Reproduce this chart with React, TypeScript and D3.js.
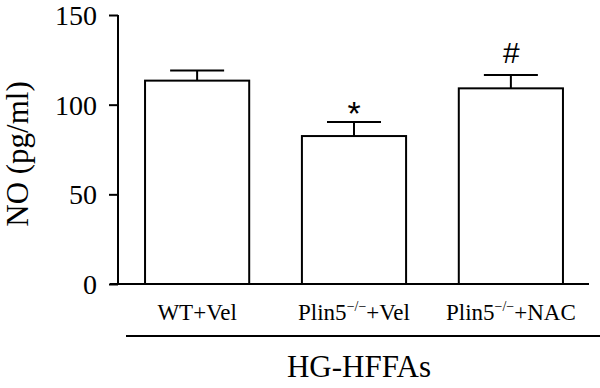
import React, { useRef, useEffect } from 'react';
import * as d3 from 'd3';

const groups = ['WT', 'Plin5', 'Plin5'];
const groupSup = ['', '−/−', '−/−'];
const treatments = ['+Vel', '+Vel', '+NAC'];
const means = [113.4, 82.5, 109.1];
const errors = [5.7, 7.8, 7.5];
const marks = ['', '*', '#'];
const yTicks = [0, 50, 100, 150];
const groupLabel = 'HG-HFFAs';
const yLabel = 'NO (pg/ml)';

const serif = '"Liberation Serif", "Times New Roman", serif';
const sans = '"Liberation Sans", Arial, sans-serif';

const App = () => {
  const svgRef = useRef<SVGSVGElement>(null);

  useEffect(() => {
    const svg = d3.select(svgRef.current);
    svg.selectAll('*').remove();

    const x = d3
      .scaleBand<number>()
      .domain(means.map((_, i) => i))
      .range([119, 589])
      .paddingInner(0.336)
      .paddingOuter(0.166);
    const y = d3.scaleLinear().domain([0, 150]).range([284, 15]);

    // y axis
    const yAxis = svg
      .append('g')
      .attr('transform', 'translate(118,0)')
      .call(d3.axisLeft(y).tickValues(yTicks).tickSize(9).tickPadding(12));
    yAxis.attr('font-family', serif);
    yAxis.select('.domain').attr('stroke', '#000').attr('stroke-width', 2).attr('d', `M0,${y(150)}V${y(0)}`);
    yAxis.selectAll('.tick line').attr('stroke', '#000').attr('stroke-width', 2);
    yAxis
      .selectAll('.tick text')
      .attr('font-family', serif)
      .attr('font-size', 28)
      .attr('fill', '#000')
      .attr('dy', '0.34em');

    // x axis baseline
    svg
      .append('line')
      .attr('x1', 110)
      .attr('x2', x.range()[1])
      .attr('y1', y(0))
      .attr('y2', y(0))
      .attr('stroke', '#000')
      .attr('stroke-width', 2);

    const bars = svg.append('g');
    means.forEach((m, i) => {
      const cx = (x(i) as number) + x.bandwidth() / 2;
      const top = y(m + errors[i]);
      bars
        .append('line')
        .attr('x1', cx)
        .attr('x2', cx)
        .attr('y1', y(m))
        .attr('y2', top)
        .attr('stroke', '#000')
        .attr('stroke-width', 2);
      bars
        .append('line')
        .attr('x1', cx - 27)
        .attr('x2', cx + 27)
        .attr('y1', top)
        .attr('y2', top)
        .attr('stroke', '#000')
        .attr('stroke-width', 2);
      bars
        .append('rect')
        .attr('x', x(i) as number)
        .attr('y', y(m))
        .attr('width', x.bandwidth())
        .attr('height', y(0) - y(m))
        .attr('fill', '#fff')
        .attr('stroke', '#000')
        .attr('stroke-width', 2);

      if (marks[i]) {
        const star = marks[i] === '*';
        bars
          .append('text')
          .attr('x', cx)
          .attr('y', star ? top + 3 : top - 12)
          .attr('text-anchor', 'middle')
          .attr('font-family', sans)
          .attr('font-size', star ? 34 : 30)
          .attr('font-style', star ? 'normal' : 'italic')
          .attr('fill', '#000')
          .text(marks[i]);
      }

      const label = bars
        .append('text')
        .attr('x', cx)
        .attr('y', 320)
        .attr('text-anchor', 'middle')
        .attr('font-family', serif)
        .attr('font-size', 23)
        .attr('fill', '#000');
      label.append('tspan').text(groups[i]);
      if (groupSup[i]) {
        label.append('tspan').attr('font-size', 14).attr('dy', -9).text(groupSup[i]);
        label.append('tspan').attr('dy', 9).text(treatments[i]);
      } else {
        label.append('tspan').text(treatments[i]);
      }
    });

    // group bracket
    svg
      .append('line')
      .attr('x1', 126)
      .attr('x2', 600)
      .attr('y1', 336)
      .attr('y2', 336)
      .attr('stroke', '#000')
      .attr('stroke-width', 2);
    svg
      .append('text')
      .attr('x', 359)
      .attr('y', 377)
      .attr('text-anchor', 'middle')
      .attr('font-family', serif)
      .attr('font-size', 31)
      .attr('fill', '#000')
      .text(groupLabel);

    svg
      .append('text')
      .attr('transform', 'translate(28,154) rotate(-90)')
      .attr('text-anchor', 'middle')
      .attr('font-family', serif)
      .attr('font-size', 31)
      .attr('fill', '#000')
      .text(yLabel);
  }, []);

  return (
    <svg
      ref={svgRef}
      width={600}
      height={388}
      style={{ position: 'absolute', left: 0, top: 0, background: '#fff' }}
    />
  );
};

export default App;
